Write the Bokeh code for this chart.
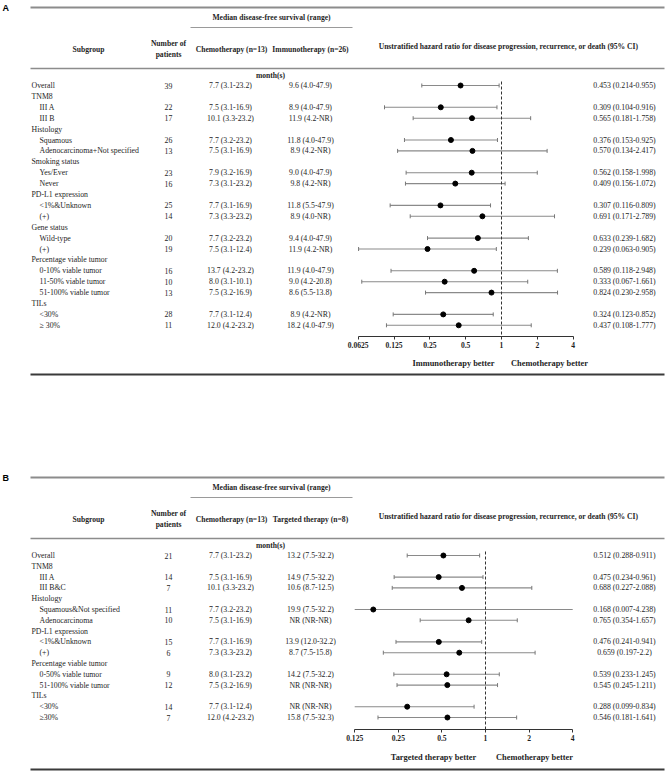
import numpy as np
from bokeh.plotting import figure
from bokeh.models import Range1d, LogScale, LogAxis, FixedTicker, CustomJSTickFormatter
from bokeh.core.properties import value
from bokeh.embed import file_html
from bokeh.resources import INLINE

# ---------------- data: panel A (immunotherapy vs chemotherapy) ----------------
labels_A = ["Overall", "TNM8", "III A", "III B", "Histology", "Squamous",
            "Adenocarcinoma+Not specified", "Smoking status", "Yes/Ever", "Never",
            "PD-L1 expression", "<1%&Unknown", "(+)", "Gene status", "Wild-type", "(+)",
            "Percentage viable tumor", "0-10% viable tumor", "11-50% viable tumor",
            "51-100% viable tumor", "TILs", "<30%", "\u2265 30%"]
level_A = [0, 0, 1, 1, 0, 1, 1, 0, 1, 1, 0, 1, 1, 0, 1, 1, 0, 1, 1, 1, 0, 1, 1]
n_A = [39, None, 22, 17, None, 26, 13, None, 23, 16, None, 25, 14, None, 20, 19,
       None, 16, 10, 13, None, 28, 11]
chemo_A = ["7.7 (3.1-23.2)", "", "7.5 (3.1-16.9)", "10.1 (3.3-23.2)", "", "7.7 (3.2-23.2)",
           "7.5 (3.1-16.9)", "", "7.9 (3.2-16.9)", "7.3 (3.1-23.2)", "", "7.7 (3.1-16.9)",
           "7.3 (3.3-23.2)", "", "7.7 (3.2-23.2)", "7.5 (3.1-12.4)", "", "13.7 (4.2-23.2)",
           "8.0 (3.1-10.1)", "7.5 (3.2-16.9)", "", "7.7 (3.1-12.4)", "12.0 (4.2-23.2)"]
immuno_A = ["9.6 (4.0-47.9)", "", "8.9 (4.0-47.9)", "11.9 (4.2-NR)", "", "11.8 (4.0-47.9)",
            "8.9 (4.2-NR)", "", "9.0 (4.0-47.9)", "9.8 (4.2-NR)", "", "11.8 (5.5-47.9)",
            "8.9 (4.0-NR)", "", "9.4 (4.0-47.9)", "11.9 (4.2-NR)", "", "11.9 (4.0-47.9)",
            "9.0 (4.2-20.8)", "8.6 (5.5-13.8)", "", "8.9 (4.2-NR)", "18.2 (4.0-47.9)"]
hr_A = [0.453, None, 0.309, 0.565, None, 0.376, 0.570, None, 0.562, 0.409, None, 0.307,
        0.691, None, 0.633, 0.239, None, 0.589, 0.333, 0.824, None, 0.324, 0.437]
lo_A = [0.214, None, 0.104, 0.181, None, 0.153, 0.134, None, 0.158, 0.156, None, 0.116,
        0.171, None, 0.239, 0.063, None, 0.118, 0.067, 0.230, None, 0.123, 0.108]
hi_A = [0.955, None, 0.916, 1.758, None, 0.925, 2.417, None, 1.998, 1.072, None, 0.809,
        2.789, None, 1.682, 0.905, None, 2.948, 1.661, 2.958, None, 0.852, 1.777]
hrtxt_A = ["0.453 (0.214-0.955)", "", "0.309 (0.104-0.916)", "0.565 (0.181-1.758)", "",
           "0.376 (0.153-0.925)", "0.570 (0.134-2.417)", "", "0.562 (0.158-1.998)",
           "0.409 (0.156-1.072)", "", "0.307 (0.116-0.809)", "0.691 (0.171-2.789)", "",
           "0.633 (0.239-1.682)", "0.239 (0.063-0.905)", "", "0.589 (0.118-2.948)",
           "0.333 (0.067-1.661)", "0.824 (0.230-2.958)", "", "0.324 (0.123-0.852)",
           "0.437 (0.108-1.777)"]
ticks_A = [0.0625, 0.125, 0.25, 0.5, 1, 2, 4]

# ---------------- data: panel B (targeted therapy vs chemotherapy) ----------------
labels_B = ["Overall", "TNM8", "III A", "III B&C", "Histology", "Squamous&Not specified",
            "Adenocarcinoma", "PD-L1 expression", "<1%&Unknown", "(+)",
            "Percentage viable tumor", "0-50% viable tumor", "51-100% viable tumor",
            "TILs", "<30%", "\u226530%"]
level_B = [0, 0, 1, 1, 0, 1, 1, 0, 1, 1, 0, 1, 1, 0, 1, 1]
n_B = [21, None, 14, 7, None, 11, 10, None, 15, 6, None, 9, 12, None, 14, 7]
chemo_B = ["7.7 (3.1-23.2)", "", "7.5 (3.1-16.9)", "10.1 (3.3-23.2)", "", "7.7 (3.2-23.2)",
           "7.5 (3.1-16.9)", "", "7.7 (3.1-16.9)", "7.3 (3.3-23.2)", "", "8.0 (3.1-23.2)",
           "7.5 (3.2-16.9)", "", "7.7 (3.1-12.4)", "12.0 (4.2-23.2)"]
target_B = ["13.2 (7.5-32.2)", "", "14.9 (7.5-32.2)", "10.6 (8.7-12.5)", "", "19.9 (7.5-32.2)",
            "NR (NR-NR)", "", "13.9 (12.0-32.2)", "8.7 (7.5-15.8)", "", "14.2 (7.5-32.2)",
            "NR (NR-NR)", "", "NR (NR-NR)", "15.8 (7.5-32.3)"]
hr_B = [0.512, None, 0.475, 0.688, None, 0.168, 0.765, None, 0.476, 0.659, None, 0.539,
        0.545, None, 0.288, 0.546]
lo_B = [0.288, None, 0.234, 0.227, None, 0.007, 0.354, None, 0.241, 0.197, None, 0.233,
        0.245, None, 0.099, 0.181]
hi_B = [0.911, None, 0.961, 2.088, None, 4.238, 1.657, None, 0.941, 2.2, None, 1.245,
        1.211, None, 0.834, 1.641]
hrtxt_B = ["0.512 (0.288-0.911)", "", "0.475 (0.234-0.961)", "0.688 (0.227-2.088)", "",
           "0.168 (0.007-4.238)", "0.765 (0.354-1.657)", "", "0.476 (0.241-0.941)",
           "0.659 (0.197-2.2)", "", "0.539 (0.233-1.245)", "0.545 (0.245-1.211)", "",
           "0.288 (0.099-0.834)", "0.546 (0.181-1.641)"]
ticks_B = [0.125, 0.25, 0.5, 1, 2, 4]

NULL_HR = 1.0

# ---------------- figure ----------------
X0, X1, Y0, Y1 = 0, 665, 0, 771
W, H = X1 - X0, Y1 - Y0
p = figure(width=W, height=H, x_range=Range1d(X0, X1), y_range=Range1d(Y1, Y0),
           output_backend="svg", toolbar_location=None,
           x_axis_location=None, y_axis_location=None,
           min_border=0, outline_line_color=None, background_fill_color="white")
p.xgrid.visible = False
p.ygrid.visible = False

SERIF = "Liberation Serif"
TXT = "#1e1e1e"


def txt(xs, ys, ts, size="7.8px", bold=False, align="center", font=SERIF, color=TXT):
    p.text(x=list(xs), y=list(ys), text=list(ts), text_font=value(font),
           text_font_size=value(size), text_font_style="bold" if bold else "normal",
           text_align=align, text_baseline="middle", text_color=color)


def hline(y, xa, xb, color, width):
    p.segment(x0=[xa], y0=[y], x1=[xb], y1=[y], line_color=color, line_width=width)


extra_ranges = {}
extra_scales = {}


def panel(tag, off, labels, level, n, chemo, other, other_head, hr, lo, hi, hrtxt, ticks,
          x_one, ppd, row0, step, axis_y, better_y, better_l, bl_x, br_x, bottom_y):
    rng = "hr" + tag
    extra_ranges[rng] = Range1d(2 ** ((X0 - x_one) / ppd), 2 ** ((X1 - x_one) / ppd))
    extra_scales[rng] = LogScale()

    # panel letter
    txt([2], [off + 7], [tag], size="9px", bold=True, align="left", font="Liberation Sans",
        color="black")
    # table rules
    hline(off + 7, 30, 664, "#8c8c8c", 2)
    hline(off + 27, 190, 352, "#9a9a9a", 1)
    hline(off + 68, 30, 664, "#8c8c8c", 1.5)
    hline(bottom_y, 30, 664, "#3a3a3a", 1.8)

    # headers
    txt([271], [off + 17], ["Median disease-free survival (range)"], size="7.6px", bold=True)
    txt([88], [off + 48.5], ["Subgroup"], size="7.6px", bold=True)
    txt([168, 168], [off + 43, off + 53.5], ["Number of", "patients"], size="7.6px", bold=True)
    txt([231], [off + 48.5], ["Chemotherapy (n=13)"], size="7.6px", bold=True)
    txt([310], [off + 48.5], [other_head], size="7.6px", bold=True)
    txt([508], [off + 46],
        ["Unstratified hazard ratio for disease progression, recurrence, or death (95% CI)"],
        size="7.6px", bold=True)
    txt([270], [off + 74.5], ["month(s)"], size="7.6px", bold=True)

    # rows
    k = len(labels)
    ys = row0 + step * np.arange(k)
    lx = np.where(np.array(level) == 0, 31, 39)
    txt(lx, ys, labels, align="left")
    txt([168] * k, ys, ["" if v is None else str(v) for v in n])
    txt([230] * k, ys, chemo)
    txt([310] * k, ys, other)
    txt([624] * k, ys, hrtxt)

    # forest
    idx = [i for i, v in enumerate(hr) if v is not None]
    yv = ys[idx]
    h = np.array([hr[i] for i in idx])
    l = np.array([lo[i] for i in idx])
    u = np.array([hi[i] for i in idx])
    lc = np.clip(l, ticks[0], ticks[-1])
    uc = np.clip(u, ticks[0], ticks[-1])
    p.segment(x0=lc, y0=yv, x1=uc, y1=yv, x_range_name=rng, line_color="#8a8a8a",
              line_width=1.1)
    ml = l >= ticks[0]
    mu = u <= ticks[-1]
    p.segment(x0=l[ml], y0=yv[ml] - 2, x1=l[ml], y1=yv[ml] + 2, x_range_name=rng,
              line_color="#777777", line_width=1)
    p.segment(x0=u[mu], y0=yv[mu] - 2, x1=u[mu], y1=yv[mu] + 2, x_range_name=rng,
              line_color="#777777", line_width=1)
    p.segment(x0=[NULL_HR], y0=[row0 - 4], x1=[NULL_HR], y1=[axis_y], x_range_name=rng,
              line_color="#333333", line_width=1, line_dash="3 2")
    p.scatter(x=h, y=yv, x_range_name=rng, size=5, fill_color="black", line_color="black")

    ax = LogAxis(x_range_name=rng, fixed_location=axis_y, bounds=(ticks[0], ticks[-1]),
                 ticker=FixedTicker(ticks=ticks, minor_ticks=[]),
                 formatter=CustomJSTickFormatter(code="return tick.toString();"),
                 major_tick_out=3, major_tick_in=0, minor_tick_out=0, minor_tick_in=0,
                 major_label_standoff=2, axis_line_color="#333333", axis_line_width=1.2,
                 major_tick_line_color="#333333",
                 major_label_text_font=SERIF, major_label_text_font_style="bold",
                 major_label_text_font_size="7.6px", major_label_text_color=TXT)
    p.add_layout(ax, "below")

    txt([bl_x, br_x], [better_y, better_y], [better_l, "Chemotherapy better"],
        size="8.4px", bold=True)


panel("A", 0, labels_A, level_A, n_A, chemo_A, immuno_A, "Immunotherapy (n=26)",
      hr_A, lo_A, hi_A, hrtxt_A, ticks_A, x_one=501, ppd=35.83, row0=85, step=10.9,
      axis_y=336, better_y=363, better_l="Immunotherapy better", bl_x=453, br_x=549,
      bottom_y=374)
panel("B", 470, labels_B, level_B, n_B, chemo_B, target_B, "Targeted therapy (n=8)",
      hr_B, lo_B, hi_B, hrtxt_B, ticks_B, x_one=485, ppd=43.6, row0=555, step=10.8,
      axis_y=729, better_y=757, better_l="Targeted therapy better", bl_x=433, br_x=534,
      bottom_y=769)

p.extra_x_ranges = extra_ranges
p.extra_x_scales = extra_scales

open("out.html", "w").write(file_html(p, INLINE))
